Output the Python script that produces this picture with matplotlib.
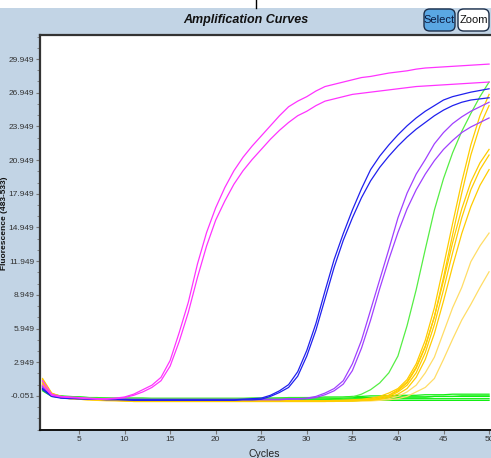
import numpy as np
import matplotlib.pyplot as plt
from matplotlib import font_manager
from matplotlib.patches import FancyBboxPatch, Rectangle
from matplotlib.lines import Line2D
from matplotlib.ticker import FixedLocator

# cycle numbers and fluorescence readings
cycles = list(range(1, 51))

magenta_1 = [1.3, 0.1, -0.1, -0.15, -0.2, -0.25, -0.3, -0.3, -0.25, -0.15,
             0.1, 0.5, 0.9, 1.6, 3.1, 5.6, 8.3, 11.7, 14.5, 16.7,
             18.5, 20.0, 21.2, 22.2, 23.1, 24.0, 24.9, 25.7, 26.2, 26.6,
             27.1, 27.5, 27.7, 27.9, 28.1, 28.3, 28.4, 28.55, 28.7, 28.8,
             28.9, 29.05, 29.15, 29.2, 29.25, 29.3, 29.35, 29.4, 29.45, 29.5]
magenta_2 = [0.9, 0.0, -0.15, -0.2, -0.25, -0.3, -0.35, -0.35, -0.3, -0.2,
             0.0, 0.3, 0.7, 1.3, 2.6, 4.8, 7.4, 10.5, 13.3, 15.6,
             17.3, 18.8, 20.0, 21.0, 21.9, 22.8, 23.6, 24.3, 24.9, 25.3,
             25.8, 26.2, 26.4, 26.6, 26.8, 26.9, 27.0, 27.1, 27.2, 27.3,
             27.4, 27.5, 27.55, 27.6, 27.65, 27.7, 27.75, 27.8, 27.85, 27.9]

blue_1 = [0.6, -0.05, -0.2, -0.25, -0.3, -0.3, -0.35, -0.35, -0.35, -0.4,
          -0.4, -0.4, -0.4, -0.4, -0.4, -0.4, -0.4, -0.4, -0.4, -0.4,
          -0.4, -0.4, -0.35, -0.3, -0.25, 0.0, 0.4, 0.95, 2.1, 4.0,
          6.4, 9.3, 12.1, 14.4, 16.5, 18.4, 20.1, 21.3, 22.3, 23.2,
          24.0, 24.7, 25.3, 25.8, 26.3, 26.6, 26.8, 27.0, 27.15, 27.3]
blue_2 = [0.5, -0.1, -0.25, -0.3, -0.3, -0.35, -0.35, -0.4, -0.4, -0.4,
          -0.45, -0.45, -0.45, -0.45, -0.45, -0.45, -0.45, -0.45, -0.45, -0.45,
          -0.45, -0.45, -0.4, -0.4, -0.35, -0.1, 0.25, 0.7, 1.7, 3.5,
          5.8, 8.6, 11.4, 13.8, 15.8, 17.6, 19.1, 20.3, 21.3, 22.2,
          23.0, 23.7, 24.3, 24.9, 25.4, 25.8, 26.1, 26.3, 26.4, 26.5]

purple_1 = [0.8, 0.0, -0.15, -0.2, -0.25, -0.3, -0.3, -0.3, -0.3, -0.35,
            -0.35, -0.35, -0.35, -0.35, -0.35, -0.35, -0.35, -0.35, -0.35, -0.35,
            -0.35, -0.35, -0.35, -0.35, -0.35, -0.35, -0.35, -0.3, -0.3, -0.25,
            -0.1, 0.2, 0.6, 1.3, 2.8, 4.9, 7.6, 10.3, 13.0, 15.8,
            18.0, 19.7, 21.0, 22.4, 23.4, 24.2, 24.8, 25.3, 25.7, 26.1]
purple_2 = [0.7, -0.05, -0.2, -0.25, -0.3, -0.3, -0.35, -0.35, -0.35, -0.35,
            -0.4, -0.4, -0.4, -0.4, -0.4, -0.4, -0.4, -0.4, -0.4, -0.4,
            -0.4, -0.4, -0.4, -0.4, -0.4, -0.4, -0.4, -0.35, -0.35, -0.3,
            -0.2, 0.05, 0.4, 1.0, 2.2, 4.2, 6.7, 9.5, 12.1, 14.5,
            16.6, 18.3, 19.7, 20.9, 21.9, 22.7, 23.4, 23.9, 24.3, 24.7]

green_rise = [0.7, 0.05, -0.1, -0.15, -0.2, -0.2, -0.25, -0.25, -0.25, -0.25,
              -0.25, -0.25, -0.25, -0.25, -0.25, -0.25, -0.25, -0.25, -0.25, -0.25,
              -0.25, -0.25, -0.25, -0.25, -0.25, -0.25, -0.25, -0.25, -0.25, -0.25,
              -0.25, -0.25, -0.2, -0.2, -0.15, 0.1, 0.5, 1.1, 2.0, 3.5,
              6.2, 9.4, 13.0, 16.5, 19.3, 21.6, 23.5, 25.1, 26.6, 27.9]

yellow_1 = [1.5, 0.2, -0.1, -0.2, -0.25, -0.3, -0.35, -0.4, -0.4, -0.45,
            -0.45, -0.45, -0.5, -0.5, -0.5, -0.5, -0.5, -0.5, -0.5, -0.5,
            -0.5, -0.5, -0.5, -0.5, -0.5, -0.5, -0.5, -0.5, -0.5, -0.5,
            -0.5, -0.5, -0.45, -0.45, -0.4, -0.35, -0.25, -0.1, 0.2, 0.6,
            1.4, 2.8, 4.9, 7.8, 11.5, 15.3, 19.0, 22.3, 24.9, 26.8]
yellow_2 = [1.2, 0.1, -0.15, -0.25, -0.3, -0.35, -0.4, -0.4, -0.45, -0.45,
            -0.5, -0.5, -0.5, -0.5, -0.5, -0.5, -0.5, -0.5, -0.5, -0.5,
            -0.5, -0.5, -0.5, -0.5, -0.5, -0.5, -0.5, -0.5, -0.5, -0.5,
            -0.5, -0.5, -0.5, -0.45, -0.45, -0.4, -0.35, -0.2, 0.0, 0.4,
            1.1, 2.4, 4.3, 7.0, 10.5, 14.3, 18.0, 21.4, 24.0, 25.8]
yellow_3 = [1.0, 0.0, -0.2, -0.3, -0.35, -0.4, -0.4, -0.45, -0.45, -0.5,
            -0.5, -0.5, -0.5, -0.5, -0.5, -0.5, -0.5, -0.5, -0.5, -0.5,
            -0.5, -0.5, -0.5, -0.5, -0.5, -0.5, -0.5, -0.5, -0.5, -0.5,
            -0.5, -0.5, -0.5, -0.5, -0.45, -0.4, -0.35, -0.2, 0.0, 0.5,
            1.2, 2.5, 4.4, 7.0, 10.2, 13.6, 16.6, 19.0, 20.7, 21.9]
yellow_4 = [1.4, 0.15, -0.1, -0.2, -0.3, -0.35, -0.4, -0.4, -0.45, -0.45,
            -0.55, -0.55, -0.55, -0.55, -0.55, -0.55, -0.55, -0.55, -0.55, -0.55,
            -0.55, -0.55, -0.55, -0.55, -0.55, -0.55, -0.55, -0.55, -0.55, -0.55,
            -0.55, -0.55, -0.5, -0.5, -0.5, -0.45, -0.4, -0.3, -0.1, 0.3,
            0.9, 2.0, 3.8, 6.3, 9.4, 12.7, 15.8, 18.3, 20.1, 21.4]
yellow_5 = [1.1, 0.05, -0.15, -0.25, -0.3, -0.35, -0.4, -0.45, -0.45, -0.5,
            -0.5, -0.5, -0.5, -0.5, -0.5, -0.5, -0.5, -0.5, -0.5, -0.5,
            -0.5, -0.5, -0.5, -0.5, -0.5, -0.5, -0.5, -0.5, -0.5, -0.5,
            -0.5, -0.5, -0.5, -0.5, -0.5, -0.45, -0.45, -0.35, -0.2, 0.1,
            0.6, 1.6, 3.2, 5.5, 8.4, 11.5, 14.4, 16.8, 18.7, 20.1]
yellow_6 = [0.9, 0.0, -0.2, -0.3, -0.35, -0.4, -0.45, -0.45, -0.5, -0.5,
            -0.55, -0.55, -0.55, -0.55, -0.55, -0.55, -0.55, -0.55, -0.55, -0.55,
            -0.55, -0.55, -0.55, -0.55, -0.55, -0.55, -0.55, -0.55, -0.55, -0.55,
            -0.55, -0.55, -0.55, -0.5, -0.5, -0.5, -0.45, -0.4, -0.3, -0.1,
            0.3, 0.9, 2.0, 3.4, 5.6, 7.8, 9.6, 11.9, 13.3, 14.45]
yellow_7 = [0.8, -0.05, -0.2, -0.3, -0.35, -0.4, -0.45, -0.5, -0.5, -0.5,
            -0.5, -0.5, -0.5, -0.5, -0.5, -0.5, -0.5, -0.5, -0.5, -0.5,
            -0.5, -0.5, -0.5, -0.5, -0.5, -0.5, -0.5, -0.5, -0.5, -0.5,
            -0.5, -0.5, -0.5, -0.5, -0.5, -0.5, -0.5, -0.45, -0.4, -0.3,
            -0.1, 0.3, 0.7, 1.5, 3.2, 5.0, 6.7, 8.1, 9.6, 11.0]

flat_1 = [0.9, 0.1, -0.05, -0.1, -0.15, -0.2, -0.25, -0.25, -0.3, -0.3,
          -0.3, -0.3, -0.35, -0.3, -0.3, -0.3, -0.35, -0.35, -0.3, -0.3,
          -0.3, -0.3, -0.3, -0.25, -0.25, -0.25, -0.25, -0.2, -0.2, -0.2,
          -0.2, -0.15, -0.15, -0.15, -0.1, -0.1, -0.05, -0.05, -0.05, 0.0,
          0.0, 0.0, 0.05, 0.05, 0.05, 0.1, 0.1, 0.1, 0.1, 0.1]
flat_2 = [0.6, 0.0, -0.1, -0.15, -0.2, -0.25, -0.3, -0.35, -0.35, -0.35,
          -0.4, -0.4, -0.4, -0.4, -0.45, -0.4, -0.4, -0.4, -0.45, -0.45,
          -0.4, -0.4, -0.4, -0.4, -0.35, -0.35, -0.35, -0.35, -0.3, -0.3,
          -0.3, -0.3, -0.3, -0.25, -0.25, -0.25, -0.2, -0.2, -0.2, -0.2,
          -0.15, -0.15, -0.15, -0.1, -0.1, -0.1, -0.1, -0.1, -0.1, -0.1]
flat_3 = [0.5, -0.05, -0.15, -0.2, -0.25, -0.3, -0.35, -0.35, -0.4, -0.4,
          -0.4, -0.45, -0.45, -0.45, -0.45, -0.5, -0.5, -0.45, -0.45, -0.45,
          -0.45, -0.45, -0.45, -0.4, -0.4, -0.4, -0.4, -0.4, -0.4, -0.35,
          -0.35, -0.35, -0.35, -0.35, -0.35, -0.3, -0.3, -0.3, -0.3, -0.3,
          -0.3, -0.3, -0.3, -0.3, -0.3, -0.3, -0.3, -0.3, -0.3, -0.3]
flat_4 = [0.4, -0.1, -0.2, -0.25, -0.3, -0.3, -0.35, -0.35, -0.35, -0.4,
          -0.4, -0.4, -0.4, -0.4, -0.4, -0.45, -0.45, -0.45, -0.45, -0.5,
          -0.5, -0.5, -0.5, -0.5, -0.5, -0.5, -0.5, -0.5, -0.5, -0.5,
          -0.5, -0.5, -0.5, -0.5, -0.5, -0.45, -0.45, -0.45, -0.45, -0.45,
          -0.45, -0.45, -0.45, -0.45, -0.45, -0.45, -0.45, -0.45, -0.45, -0.45]
flat_5 = [0.8, 0.05, -0.1, -0.15, -0.15, -0.2, -0.2, -0.25, -0.25, -0.25,
          -0.25, -0.25, -0.3, -0.3, -0.3, -0.3, -0.3, -0.3, -0.3, -0.3,
          -0.3, -0.3, -0.3, -0.3, -0.3, -0.3, -0.25, -0.25, -0.25, -0.25,
          -0.25, -0.25, -0.25, -0.2, -0.2, -0.2, -0.2, -0.2, -0.2, -0.15,
          -0.15, -0.15, -0.15, -0.1, -0.1, -0.1, -0.05, -0.05, -0.05, -0.05]

y_ticks = [-0.051, 2.949, 5.949, 8.949, 11.949, 14.949, 17.949, 20.949, 23.949, 26.949, 29.949]
x_ticks = [5, 10, 15, 20, 25, 30, 35, 40, 45, 50]

# a narrow face if there is one, it is closer to the original UI font
narrow = 'Liberation Sans'
try:
    font_manager.findfont('Liberation Sans Narrow', fallback_to_default=False)
    narrow = 'Liberation Sans Narrow'
except ValueError:
    pass
plt.rcParams['font.family'] = ['Liberation Sans', 'DejaVu Sans']

fig = plt.figure(figsize=(4.91, 4.58), dpi=100)
fig.patch.set_facecolor('#c2d4e5')

# white strip at the very top with the little divider
fig.add_artist(Rectangle((0, 450/458), 1, 8/458, transform=fig.transFigure,
                         facecolor='white', edgecolor='none'))
fig.add_artist(Line2D([256/491, 256/491], [450/458, 1], transform=fig.transFigure,
                      color='black', lw=1))

ax = fig.add_axes([40/491, 28/458, 460/491, 395/458])
ax.set_facecolor('white')

flats = [flat_1, flat_2, flat_3, flat_4, flat_5]
for f in flats:
    ax.plot(cycles, f, color='#11ee11', lw=0.9)

light = [yellow_6, yellow_7]
for yv in light:
    ax.plot(cycles, yv, color='#ffdd66', lw=0.9)
gold = [yellow_1, yellow_2, yellow_3, yellow_4, yellow_5]
for yv in gold:
    ax.plot(cycles, yv, color='#ffcc00', lw=0.9)

ax.plot(cycles, green_rise, color='#55ee44', lw=0.9)
ax.plot(cycles, purple_1, color='#a040ff', lw=0.9)
ax.plot(cycles, purple_2, color='#a040ff', lw=0.9)
ax.plot(cycles, blue_1, color='#2020ee', lw=0.9)
ax.plot(cycles, blue_2, color='#2020ee', lw=0.9)
ax.plot(cycles, magenta_1, color='#ff33ff', lw=0.9)
ax.plot(cycles, magenta_2, color='#ff33ff', lw=0.9)

ax.set_xlim(0.72, 51.2)
ax.set_ylim(-3.09, 32.09)

ax.set_xticks(x_ticks)
ax.set_yticks(y_ticks)
ax.set_yticklabels(['%.3f' % v for v in y_ticks])
ax.yaxis.set_minor_locator(FixedLocator(np.arange(-3.051, 32, 1.0)))
ax.tick_params(axis='both', which='major', labelcolor='#333333',
               color='#777777', length=3, width=0.8, pad=1)
ax.tick_params(axis='y', which='minor', color='#777777', length=2, width=0.6)
for lab in ax.get_xticklabels() + ax.get_yticklabels():
    lab.set_family(narrow)
    lab.set_fontsize(6)

ax.spines['right'].set_visible(False)
ax.spines['left'].set_color('#333333')
ax.spines['left'].set_linewidth(1.6)
ax.spines['top'].set_color('#333333')
ax.spines['top'].set_linewidth(1.6)
ax.spines['bottom'].set_color('#111111')
ax.spines['bottom'].set_linewidth(1.4)

fig.text(5/491, 1 - 223/458, 'Fluorescence (483-533)', rotation=90,
         ha='center', va='center', fontsize=6, fontweight='bold',
         color='#111111', family=narrow)
fig.text(264/491, 1 - 454/458, 'Cycles', ha='center', va='center',
         fontsize=7.5, color='#222222', family=narrow)
fig.text(246/491, 1 - 20/458, 'Amplification Curves', ha='center', va='center',
         fontsize=9, fontweight='bold', fontstyle='italic', color='#111111',
         family=narrow)

# Select / Zoom buttons
fig.add_artist(FancyBboxPatch((424/491, 1 - 31/458), 31/491, 22/458,
                              boxstyle='round,pad=0,rounding_size=0.012',
                              transform=fig.transFigure, facecolor='#5aa7e3',
                              edgecolor='#1d2f4a', lw=1))
fig.text(439.5/491, 1 - 20/458, 'Select', ha='center', va='center',
         fontsize=8, color='#0b1a40', family=narrow)
fig.add_artist(FancyBboxPatch((458/491, 1 - 31/458), 31/491, 22/458,
                              boxstyle='round,pad=0,rounding_size=0.012',
                              transform=fig.transFigure, facecolor='white',
                              edgecolor='#1d2f4a', lw=1))
fig.text(473.5/491, 1 - 20/458, 'Zoom', ha='center', va='center',
         fontsize=8, color='#111111', family=narrow)

plt.savefig('out.png', dpi=100, facecolor=fig.get_facecolor())
